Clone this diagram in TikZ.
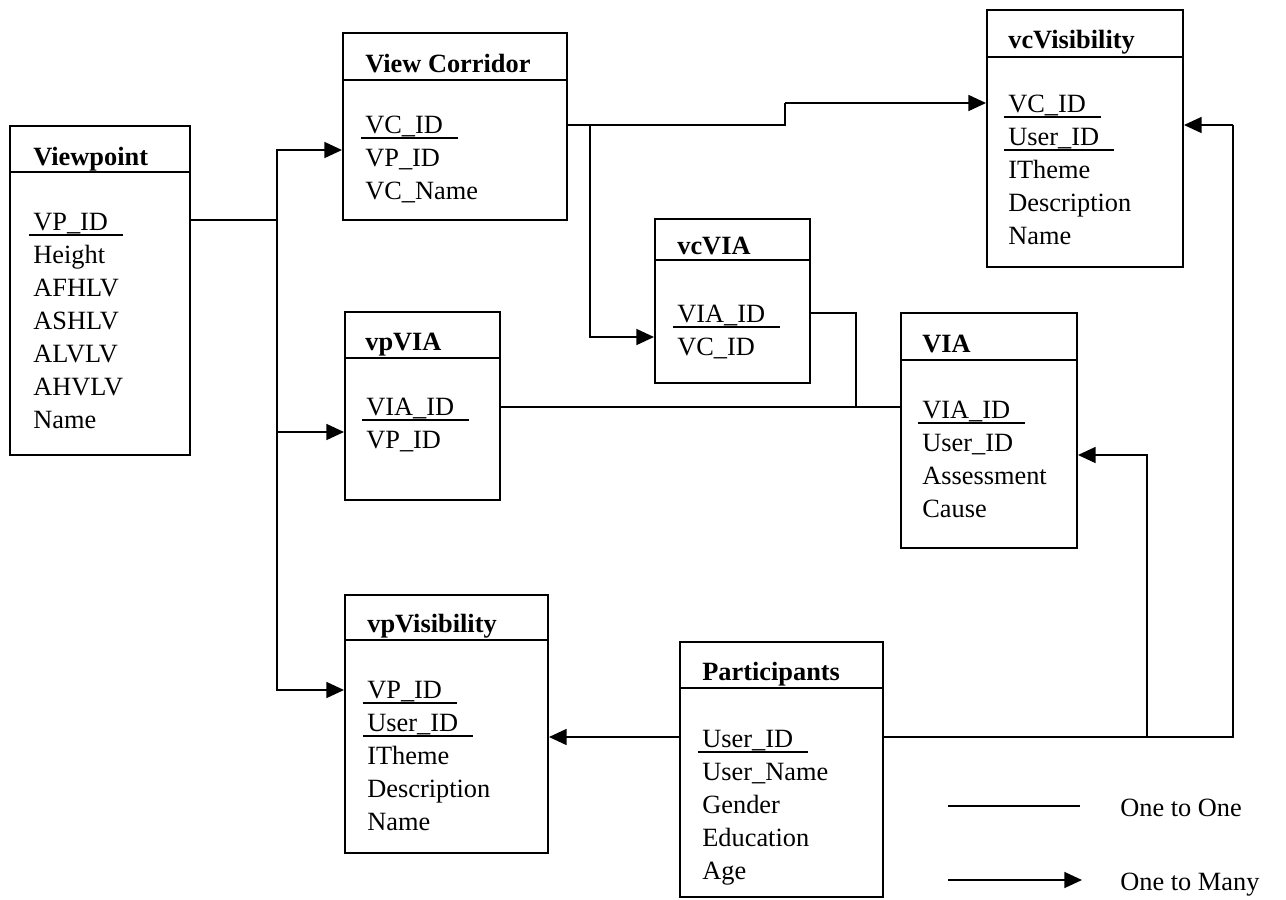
\documentclass[tikz,border=0pt]{standalone}
\usepackage{fontspec}
\setmainfont{Liberation Serif}
\usetikzlibrary{arrows.meta,fit}

% key field: text with a rule under it
\newcommand{\pkey}[1]{\setbox0=\hbox{#1}\rlap{\kern-2.5pt\rule[-3pt]{\dimexpr\wd0+11pt\relax}{0.8pt}}\box0}

\begin{document}
\begin{tikzpicture}[x=0.02cm,y=-0.02cm,
  font=\fontsize{15}{18.78}\selectfont,
  tbl/.style={draw,line width=1.1pt,inner sep=0pt},
  ttl/.style={anchor=base west,inner sep=0pt,font=\fontsize{15}{18.78}\selectfont\bfseries},
  fld/.style={anchor=north west,inner sep=0pt,align=left},
  ln/.style={line width=1.1pt},
  ar/.style={-{Triangle[length=10pt,width=9pt]},line width=1.1pt}]

\useasboundingbox (0,0) rectangle (1286,900);

% tables
\node[tbl,fit={(10,126) (190,455)}] (vp) {};
\draw[ln] (10,172) -- (190,172);
\node[ttl] (vpT) at (33,165) {Viewpoint};
\node[fld] (vpF) at (33,210.6)
  {\rule{0pt}{11pt}\pkey{VP\_ID}\\Height\\AFHLV\\ASHLV\\ALVLV\\AHVLV\\Name};

\node[tbl,fit={(343,33) (567,220)}] (vc) {};
\draw[ln] (343,80) -- (567,80);
\node[ttl] (vcT) at (365,72) {View Corridor};
\node[fld] (vcF) at (365,113.6)
  {\rule{0pt}{11pt}\pkey{VC\_ID}\\VP\_ID\\VC\_Name};

\node[tbl,fit={(987,10) (1183,267)}] (vcv) {};
\draw[ln] (987,57) -- (1183,57);
\node[ttl] (vcvT) at (1008,48) {vcVisibility};
\node[fld] (vcvF) at (1008,92.6)
  {\rule{0pt}{11pt}\pkey{VC\_ID}\\\pkey{User\_ID}\\ITheme\\Description\\Name};

\node[tbl,fit={(655,219) (810,383)}] (vcvia) {};
\draw[ln] (655,260) -- (810,260);
\node[ttl] (vcviaT) at (677,254) {vcVIA};
\node[fld] (vcviaF) at (677,302.6)
  {\rule{0pt}{11pt}\pkey{VIA\_ID}\\VC\_ID};

\node[tbl,fit={(345,312) (500,500)}] (vpvia) {};
\draw[ln] (345,358) -- (500,358);
\node[ttl] (vpviaT) at (365,350) {vpVIA};
\node[fld] (vpviaF) at (366,395.6)
  {\rule{0pt}{11pt}\pkey{VIA\_ID}\\VP\_ID};

\node[tbl,fit={(901,313) (1077,548)}] (via) {};
\draw[ln] (901,360) -- (1077,360);
\node[ttl] (viaT) at (922,352) {VIA};
\node[fld] (viaF) at (922,398.6)
  {\rule{0pt}{11pt}\pkey{VIA\_ID}\\User\_ID\\Assessment\\Cause};

\node[tbl,fit={(345,595) (548,853)}] (vpv) {};
\draw[ln] (345,640) -- (548,640);
\node[ttl] (vpvT) at (367,632) {vpVisibility};
\node[fld] (vpvF) at (367,678.6)
  {\rule{0pt}{11pt}\pkey{VP\_ID}\\\pkey{User\_ID}\\ITheme\\Description\\Name};

\node[tbl,fit={(680,642) (883,897)}] (par) {};
\draw[ln] (680,688) -- (883,688);
\node[ttl] (parT) at (702,680) {Participants};
\node[fld] (parF) at (702,727.6)
  {\rule{0pt}{11pt}\pkey{User\_ID}\\User\_Name\\Gender\\Education\\Age};

% connectors
\coordinate (vpj) at (277,220);
\draw[ln] (vp.east |- vpj) -- (vpj);
\draw[ar] (vpj) |- (vc.west |- 0,150);
\draw[ar] (vpj) |- (vpvia.west |- 0,432);
\draw[ar] (vpj) |- (vpv.west |- 0,690);

\coordinate (vcb) at (785,103);
\coordinate (vcj) at (590,125);
\draw[ln] (vc.east |- vcj) -| (vcb);
\draw[ar] (vcb) -- (vcv.west |- vcb);
\draw[ar] (vcj) |- (vcvia.west |- 0,337);

\coordinate (viaj) at (856,407);
\draw[ln] (vpvia.east |- viaj) -- (via.west |- viaj);
\draw[ln] (vcvia.east |- 0,313) -| (viaj);

\coordinate (pj) at (1147,737);
\coordinate (pcor) at (1233,125);
\draw[ar] (par.west |- pj) -- (vpv.east |- pj);
\draw[ln] (par.east |- pj) -| (pcor);
\draw[ar] (pcor) -- (vcv.east |- pcor);
\draw[ar] (pj) |- (via.east |- 0,455);

% legend
\coordinate (l1a) at (948,806);
\coordinate (l1b) at (1080,806);
\coordinate (l2a) at (948,880);
\coordinate (l2b) at (1082,880);
\draw[ln] (l1a) -- (l1b);
\draw[ar] (l2a) -- (l2b);
\node[anchor=base west,inner sep=0pt] (l1t) at (1120,816) {One to One};
\node[anchor=base west,inner sep=0pt] (l2t) at (1120,890) {One to Many};
\end{tikzpicture}
\end{document}
